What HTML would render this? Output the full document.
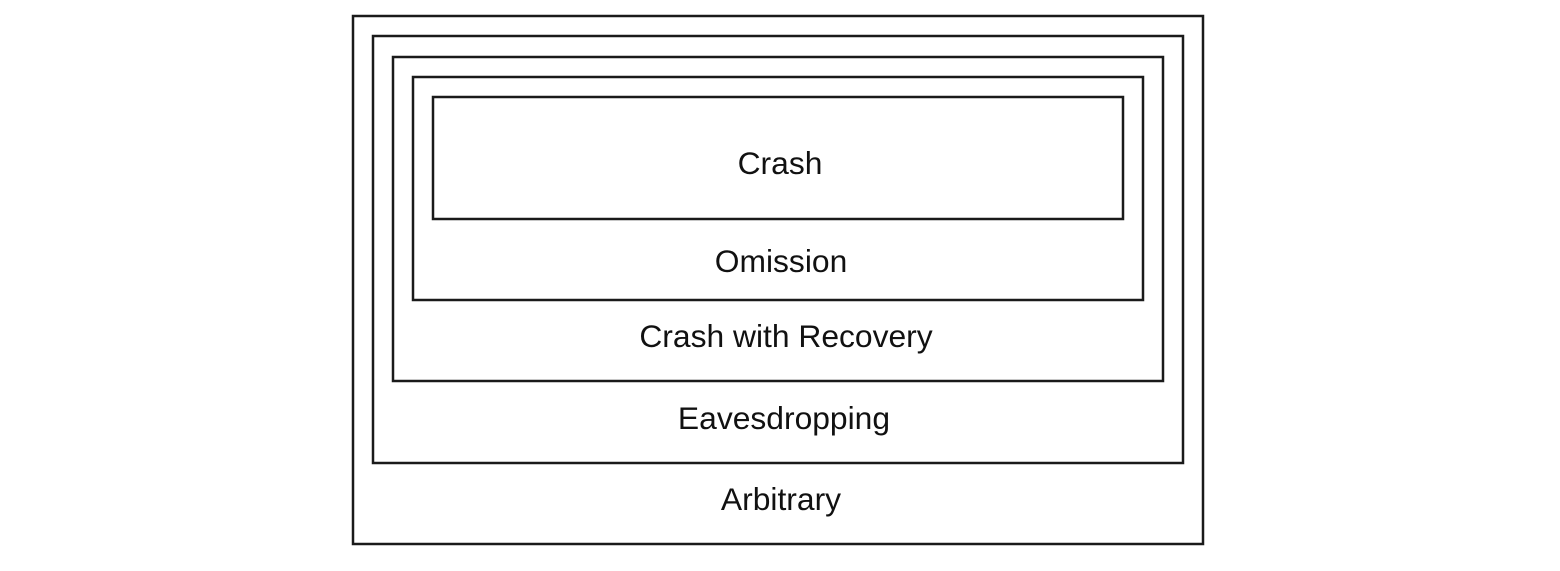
<!DOCTYPE html>
<html><head><style>
html,body{margin:0;padding:0;background:#fff;}
body{width:1560px;height:566px;overflow:hidden;}
</style></head><body>
<svg width="1560" height="566" xmlns="http://www.w3.org/2000/svg">
<g fill="none" stroke="#1a1a1a" stroke-width="2.5">
<rect x="353" y="16" width="850" height="528"/>
<rect x="373" y="36" width="810" height="427"/>
<rect x="393" y="57" width="770" height="324"/>
<rect x="413" y="77" width="730" height="223"/>
<rect x="433" y="97" width="690" height="122"/>
</g>
<g font-family="Liberation Sans, Arial, sans-serif" font-size="31.8" fill="#111" text-anchor="middle">
<text x="780" y="174">Crash</text>
<text x="781" y="272">Omission</text>
<text x="786" y="347">Crash with Recovery</text>
<text x="784" y="429">Eavesdropping</text>
<text x="781" y="510">Arbitrary</text>
</g>
</svg>
</body></html>
